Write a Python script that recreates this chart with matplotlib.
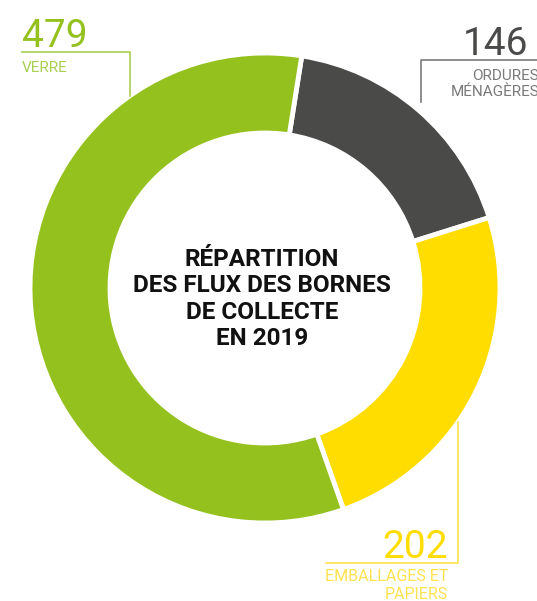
import matplotlib
matplotlib.use("Agg")
import matplotlib.pyplot as plt

categories = ["ORDURES\nMÉNAGÈRES", "EMBALLAGES ET\nPAPIERS", "VERRE"]
values = [146, 202, 479]
colors = ["#4a4a49", "#ffdd00", "#95c11f"]
label_colors = ["#4a4a49", "#ffdd00", "#95c11f"]
sub_colors = ["#7a7a7a", "#ffe24d", "#a9cf50"]
title = "RÉPARTITION\nDES FLUX DES BORNES\nDE COLLECTE\nEN 2019"

W, H = 537, 601
fig = plt.figure(figsize=(W / 100, H / 100), dpi=100)
ax = fig.add_axes([0, 0, 1, 1])

def Y(y):
    return H - y

cx, cy, R = 265, Y(288), 235
ax.pie(values, colors=colors, startangle=81, counterclock=False,
       center=(cx, cy), radius=R,
       wedgeprops=dict(width=80, edgecolor="white", linewidth=3.5))
ax.set_xlim(0, W)
ax.set_ylim(0, H)
ax.set_aspect("equal")
ax.axis("off")

fam = ["Roboto", "DejaVu Sans"]

# centre title
ax.text(262, Y(299), title, ha="center", va="center", fontsize=17.5,
        fontweight="bold", family=fam, color="#111111", linespacing=1.2)

# VERRE label
ax.text(22, Y(47), str(values[2]), ha="left", va="baseline", fontsize=28,
        family=fam, color=label_colors[2])
ax.plot([22, 130, 130], [Y(52), Y(52), Y(96)], color=sub_colors[2], lw=1.2)
ax.text(22, Y(72), categories[2], ha="left", va="baseline", fontsize=11,
        family=fam, color=sub_colors[2])

# ORDURES MENAGERES label
ax.text(528, Y(55), str(values[0]), ha="right", va="baseline", fontsize=28,
        family=fam, color=label_colors[0])
ax.plot([421, 421, W + 5], [Y(102), Y(60), Y(60)], color=sub_colors[0], lw=1.2)
ax.text(539, Y(96), categories[0], ha="right", va="baseline", fontsize=11,
        family=fam, color=sub_colors[0], linespacing=1.15)

# EMBALLAGES label
ax.text(448, Y(558), str(values[1]), ha="right", va="baseline", fontsize=28,
        family=fam, color=label_colors[1])
ax.plot([458, 458, 326], [Y(422), Y(563), Y(563)], color=sub_colors[1], lw=1.2)
ax.text(448, Y(599), categories[1], ha="right", va="baseline", fontsize=11.5,
        family=fam, color=sub_colors[1], linespacing=1.25)

fig.savefig("out.png", dpi=100)
